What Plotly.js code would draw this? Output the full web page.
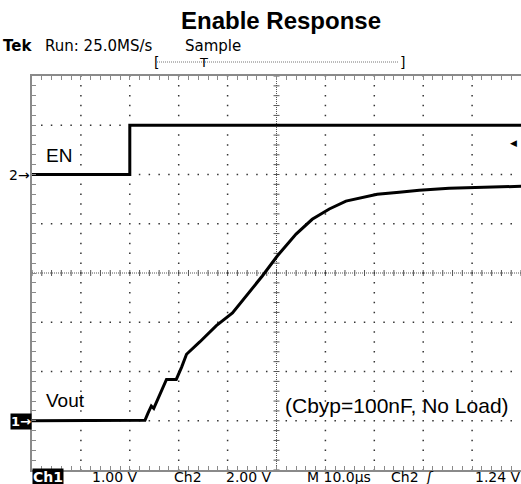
<!DOCTYPE html>
<html><head><meta charset="utf-8">
<script src="https://cdn.plot.ly/plotly-3.0.1.min.js"></script>
<style>html,body{margin:0;padding:0;background:#fff;overflow:hidden}#chart{width:521px;height:484px}</style>
</head><body><div id="chart"></div>
<script>
// Time in microseconds (10 us/div), voltages in volts
const enTime = [0, 20, 20, 100];
const enVolts = [0, 0, 2, 2];
const voutTime = [0, 5, 10, 15, 20, 22.4, 23.1, 23.7, 24.4, 24.9, 26.1, 27.5, 28.2, 29.5, 30.6, 31.6, 34.3, 37.7, 41.0, 43.1, 47.1, 50.2, 54.0, 57.3, 60.8, 64.2, 67.6, 70.6, 75.1, 79.2, 85.3, 91.4, 100];
const voutVolts = [0, 0, 0, 0, 0, 0, 0.01, 0.15, 0.30, 0.25, 0.51, 0.84, 0.84, 0.84, 1.09, 1.35, 1.60, 1.93, 2.19, 2.45, 2.94, 3.35, 3.79, 4.09, 4.30, 4.46, 4.54, 4.60, 4.64, 4.68, 4.72, 4.74, 4.76];
const chartTitle = 'Enable Response';
const headerTexts = ['Tek', 'Run: 25.0MS/s', 'Sample'];
const footerTexts = ['Ch1', '1.00 V', 'Ch2', '2.00 V', 'M 10.0\u00b5s', 'Ch2', '\u0283', '1.24 V'];
const traceLabels = ['EN', 'Vout', '(Cbyp=100nF, No Load)'];

const W = 521, H = 484, ML = 32, MR = 0, MT = 76, MB = 14;
const PW = W - ML - MR, PH = H - MT - MB;
const px = x => (x - ML) / PW;
const py = y => (H - MB - y) / PH;
const scope = 'DejaVu Sans, Verdana, sans-serif';
const arial = 'Liberation Sans, Arial, sans-serif';
const border = '#8a8a8a';
const xRange = [0, 100], yRange = [-1, 7];
const xPerPx = (xRange[1] - xRange[0]) / PW, yPerPx = (yRange[1] - yRange[0]) / PH;
const xC = 50, yC = 3;

const traces = [
  {x: enTime, y: enVolts, xaxis: 'x', yaxis: 'y2', mode: 'lines', line: {color: '#000', width: 3}, hoverinfo: 'skip'},
  {x: voutTime, y: voutVolts, xaxis: 'x', yaxis: 'y', mode: 'lines', line: {color: '#000', width: 3}, hoverinfo: 'skip'}
];

function ann(text, x, y, opts) {
  return Object.assign({text: text, x: px(x), y: py(y), xref: 'paper', yref: 'paper', showarrow: false,
    xanchor: 'left', yanchor: 'middle', font: {family: scope, size: 14, color: '#000'}}, opts || {});
}

const annotations = [
  ann('<b>' + headerTexts[0] + '</b>', 1, 46, {font: {family: scope, size: 15, color: '#000'}}),
  ann(headerTexts[1], 43, 46, {font: {family: scope, size: 15, color: '#000'}}),
  ann(headerTexts[2], 183, 46, {font: {family: scope, size: 15, color: '#000'}}),
  ann('[', 152, 62, {font: {family: scope, size: 14, color: '#000'}}),
  ann(']', 398, 62, {font: {family: scope, size: 14, color: '#000'}}),
  ann('T', 203, 62, {xanchor: 'center', font: {family: scope, size: 13, color: '#000'}}),
  ann('<b>' + footerTexts[0] + '</b>', 32, 477, {bgcolor: '#000', borderpad: 0, font: {family: scope, size: 14, color: '#fff'}}),
  ann(footerTexts[1], 90, 477),
  ann(footerTexts[2], 172, 477),
  ann(footerTexts[3], 224, 477),
  ann(footerTexts[4], 305, 477),
  ann(footerTexts[5], 389, 477),
  ann('<i>' + footerTexts[6] + '</i>', 423, 477),
  ann(footerTexts[7], 473, 477),
  ann('2\u2192', 32, 175, {xanchor: 'right', font: {family: scope, size: 14, color: '#000'}}),
  ann('<b>1\u2192</b>', 32, 421, {xanchor: 'right', bgcolor: '#000', borderpad: 0, font: {family: scope, size: 13, color: '#fff'}}),
  ann('\u25c0', 519, 143, {xanchor: 'right', font: {family: scope, size: 9, color: '#000'}}),
  ann(traceLabels[0], 44, 155, {font: {family: arial, size: 19, color: '#000'}}),
  ann(traceLabels[1], 44, 400, {font: {family: arial, size: 19, color: '#000'}}),
  ann(traceLabels[2], 283, 405, {font: {family: arial, size: 21, color: '#000'}})
];

// graticule decoration: center-cross ticks and dotted division lines (every 1/5 division)
let hTicks = '', vTicks = '', dots = '';
for (let k = 0; k <= 50; k++) {
  const t = xRange[0] + k * 2;
  hTicks += 'M' + t + ',' + (yC - 3 * yPerPx) + 'L' + t + ',' + (yC + 3 * yPerPx);
  for (let j = 1; j < 8; j++) {
    const v = yRange[0] + j;
    if (v === yC || k % 5 === 0) continue;
    dots += 'M' + (t - 0.75 * xPerPx) + ',' + v + 'L' + (t + 0.75 * xPerPx) + ',' + v;
  }
}
for (let k = 0; k <= 40; k++) {
  const v = yRange[0] + k * 0.2;
  vTicks += 'M' + (xC - 3 * xPerPx) + ',' + v + 'L' + (xC + 3 * xPerPx) + ',' + v;
  for (let j = 1; j < 10; j++) {
    const t = xRange[0] + j * 10;
    if (t === xC) continue;
    dots += 'M' + t + ',' + (v - 0.75 * yPerPx) + 'L' + t + ',' + (v + 0.75 * yPerPx);
  }
}

const shapes = [
  {type: 'line', xref: 'paper', yref: 'paper', x0: px(157), x1: px(398), y0: py(62), y1: py(62), line: {color: '#777', width: 1, dash: '1px,1px'}},
  {type: 'line', xref: 'x', yref: 'paper', x0: xC, x1: xC, y0: 0, y1: 1, line: {color: '#555', width: 1, dash: '1px,1px'}, layer: 'below'},
  {type: 'line', xref: 'paper', yref: 'y', x0: 0, x1: 1, y0: yC, y1: yC, line: {color: '#555', width: 1, dash: '1px,1px'}, layer: 'below'},
  {type: 'path', xref: 'x', yref: 'y', path: hTicks, line: {color: '#555', width: 1}, layer: 'below'},
  {type: 'path', xref: 'x', yref: 'y', path: vTicks, line: {color: '#555', width: 1}, layer: 'below'},
  {type: 'path', xref: 'x', yref: 'y', path: dots, line: {color: '#333', width: 1.5}, layer: 'below'}
];

const axCommon = {showgrid: false, zeroline: false, showticklabels: false,
  ticks: 'inside', ticklen: 4, tickcolor: border, tickwidth: 1, showline: true, linecolor: border, linewidth: 2, fixedrange: true};

const layout = {
  width: W, height: H,
  margin: {l: ML, r: MR, t: MT, b: MB, pad: 0},
  paper_bgcolor: '#fff', plot_bgcolor: '#fff',
  showlegend: false,
  title: {text: '<b>' + chartTitle + '</b>', font: {family: arial, size: 24, color: '#000'},
    xref: 'paper', x: px(281), xanchor: 'center', yref: 'container', y: 1 - 21 / H, yanchor: 'middle'},
  xaxis: Object.assign({}, axCommon, {range: xRange, dtick: 10, tick0: 0, mirror: 'ticks',
    minor: {dtick: 2, ticks: 'inside', ticklen: 4, tickcolor: border, showgrid: false}}),
  yaxis: Object.assign({}, axCommon, {range: yRange, dtick: 1, tick0: 0, mirror: false,
    minor: {dtick: 0.2, ticks: 'inside', ticklen: 4, tickcolor: border, showgrid: false}}),
  yaxis2: {overlaying: 'y', range: [-12, 4], visible: false, fixedrange: true},
  annotations: annotations,
  shapes: shapes
};

Plotly.newPlot('chart', traces, layout, {staticPlot: true, displayModeBar: false});
</script></body></html>
